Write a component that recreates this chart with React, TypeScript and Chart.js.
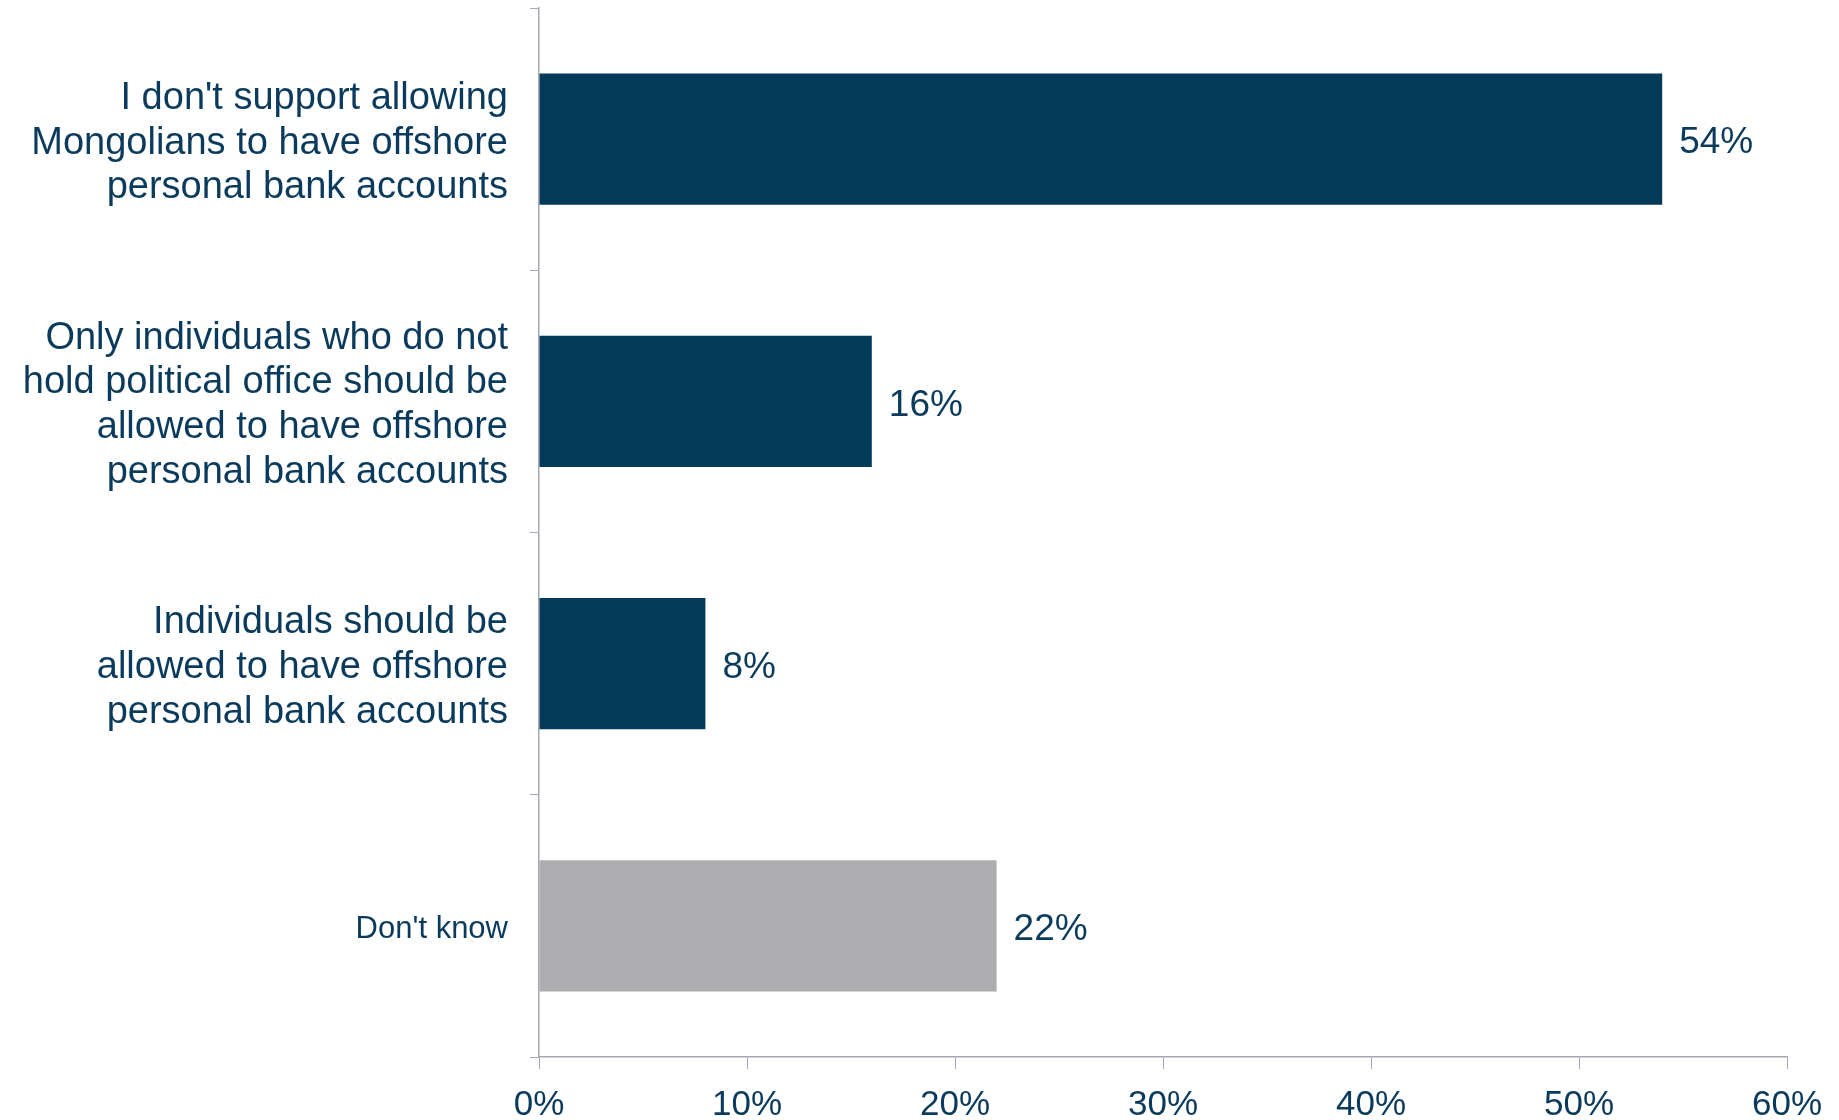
import React, { useEffect, useRef } from "react";
import { Chart, registerables } from "chart.js";

Chart.register(...registerables);

const categories: string[][] = [
  ["I don't support allowing", "Mongolians to have offshore", "personal bank accounts"],
  ["Only individuals who do not", "hold political office should be", "allowed to have offshore", "personal bank accounts"],
  ["Individuals should be", "allowed to have offshore", "personal bank accounts"],
  ["Don't know"],
];
const values: number[] = [54, 16, 8, 22];
const valueLabels: string[] = ["54%", "16%", "8%", "22%"];
const xTicks: number[] = [0, 10, 20, 30, 40, 50, 60];

const NAVY = "#033A5A";
const TEXT = "#0B3B5C";
const GRAY = "#ADADAF";
const AXIS = "#A4A8B0";
const FONT = "'Liberation Sans', Arial, sans-serif";

const barColors = values.map((_, i) => (i === 3 ? GRAY : NAVY));

const valueLabelPlugin = {
  id: "valueLabels",
  afterDatasetsDraw(chart: any) {
    const ctx = chart.ctx;
    const meta = chart.getDatasetMeta(0);
    ctx.save();
    ctx.fillStyle = TEXT;
    ctx.font = `37px ${FONT}`;
    ctx.textAlign = "left";
    ctx.textBaseline = "middle";
    meta.data.forEach((bar: any, i: number) => {
      ctx.fillText(valueLabels[i], bar.x + 17, bar.y + 4);
    });
    ctx.restore();
  },
};

export default function App() {
  const ref = useRef<HTMLCanvasElement | null>(null);

  useEffect(() => {
    document.body.style.margin = "0";
    if (!ref.current) return;
    const chart = new Chart(ref.current, {
      type: "bar",
      data: {
        labels: categories,
        datasets: [
          {
            data: values,
            backgroundColor: barColors,
            borderWidth: 0,
            barPercentage: 0.5,
            categoryPercentage: 1,
          },
        ],
      },
      options: {
        indexAxis: "y",
        animation: false,
        responsive: false,
        maintainAspectRatio: false,
        layout: { padding: { top: 8, right: 52, left: 0, bottom: 0 } },
        plugins: {
          legend: { display: false },
          tooltip: { enabled: false },
        },
        scales: {
          x: {
            min: 0,
            max: 60,
            afterBuildTicks: (scale: any) => {
              scale.ticks = xTicks.map((v) => ({ value: v }));
            },
            afterFit: (scale: any) => {
              scale.height = 63;
              scale.paddingLeft = 0;
              scale.paddingRight = 0;
            },
            grid: {
              display: true,
              drawOnChartArea: false,
              drawTicks: true,
              tickLength: 12,
              color: AXIS,
              lineWidth: 1,
            },
            border: { display: true, color: AXIS, width: 1.5 },
            ticks: {
              color: TEXT,
              font: { family: FONT, size: 35 },
              padding: 15,
              maxRotation: 0,
              autoSkip: false,
              callback: (v: any) => `${v}%`,
            },
          },
          y: {
            afterFit: (scale: any) => {
              scale.width = 539;
              scale.paddingTop = 0;
              scale.paddingBottom = 0;
            },
            grid: {
              display: true,
              offset: true,
              drawOnChartArea: false,
              drawTicks: true,
              tickLength: 9,
              color: AXIS,
              lineWidth: 1,
            },
            border: { display: true, color: AXIS, width: 1.5 },
            ticks: {
              color: TEXT,
              padding: 22,
              labelOffset: 4,
              autoSkip: false,
              font: (c: any) => ({
                family: FONT,
                size: c.index === 3 ? 31 : 38,
                lineHeight: 1.18,
              }),
            },
          },
        },
      },
      plugins: [valueLabelPlugin],
    });
    return () => chart.destroy();
  }, []);

  return (
    <div style={{ position: "absolute", left: 0, top: 0, width: 1839, height: 1120, background: "#fff" }}>
      <canvas ref={ref} width={1839} height={1120} style={{ width: 1839, height: 1120, display: "block" }} />
    </div>
  );
}
